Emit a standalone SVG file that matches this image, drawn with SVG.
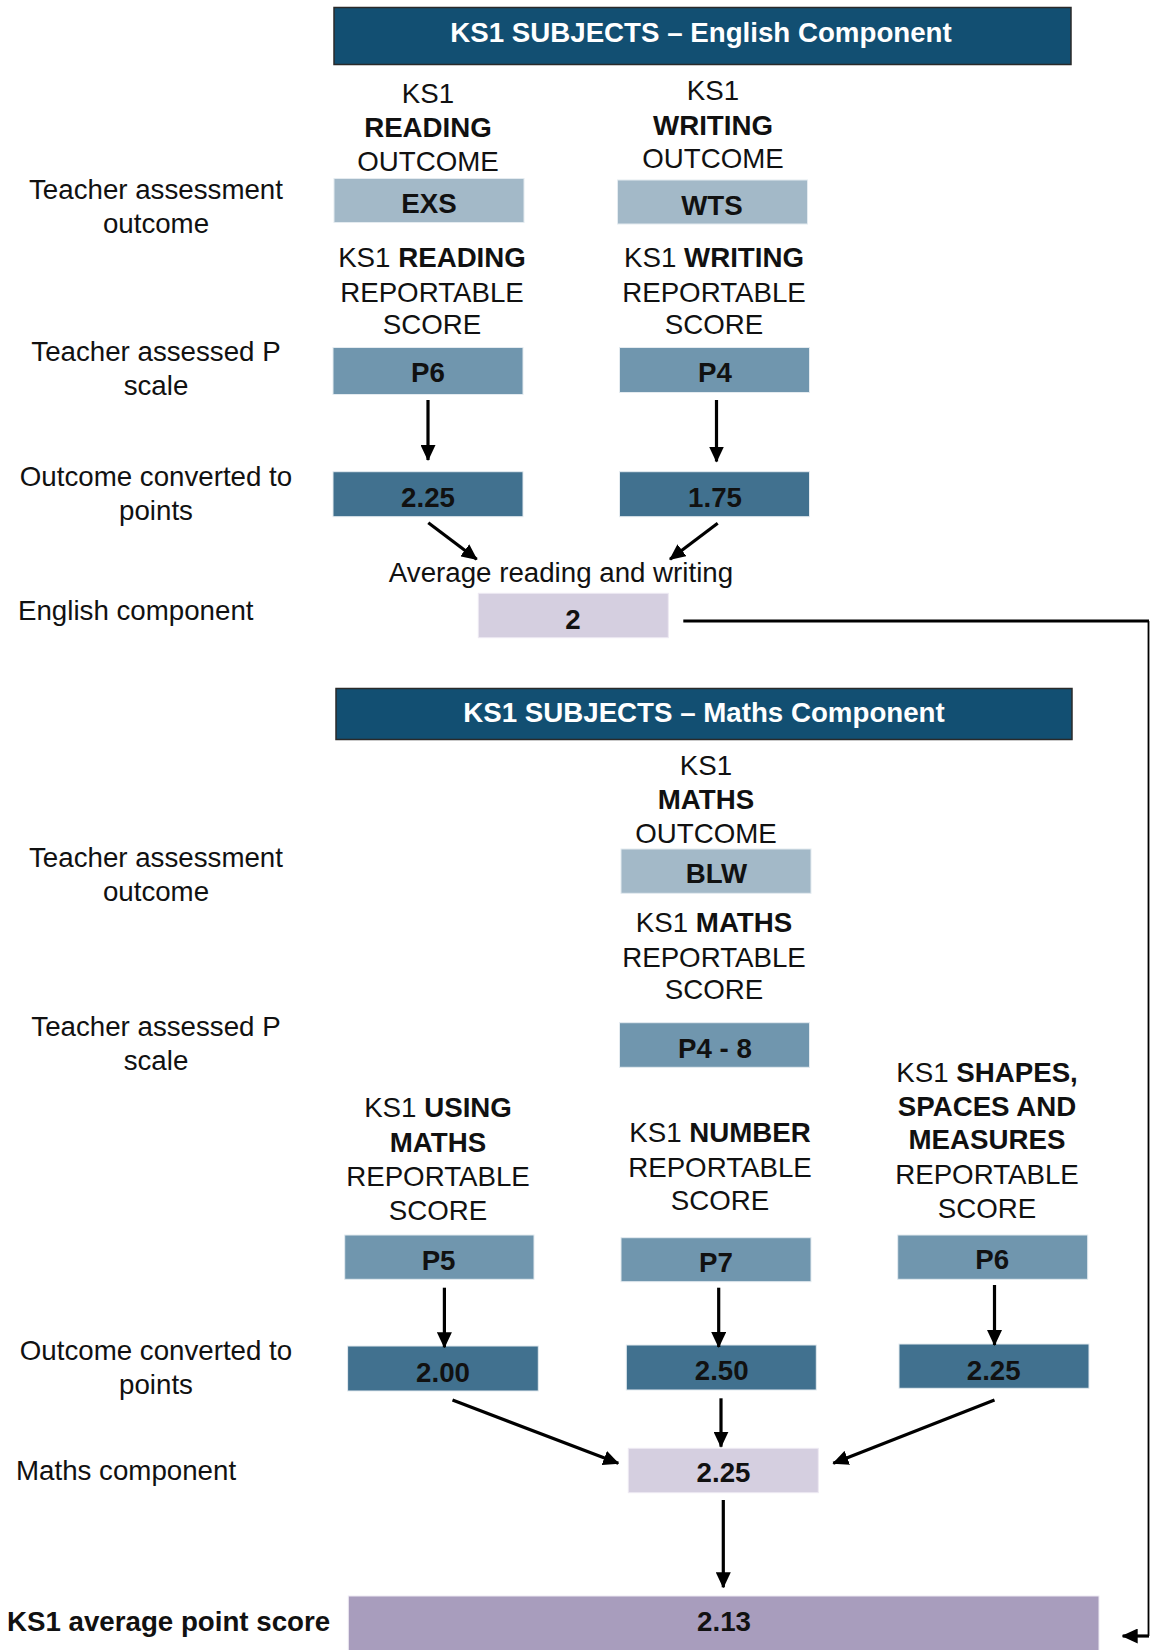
<svg xmlns="http://www.w3.org/2000/svg" width="1150" height="1650" viewBox="0 0 1150 1650">
<style>
text{font-family:"Liberation Sans",Arial,sans-serif;font-size:27.7px;fill:#111}
.c{text-anchor:middle}
.b{font-weight:bold}
.hdr rect{fill:#124f72;stroke:#2a2a2a;stroke-width:1.5}
.hdr text{fill:#fff;font-weight:bold;text-anchor:middle}
.box text{font-weight:bold;text-anchor:middle;fill:#111}
.l1{fill:#a3b9c8;stroke:#e4ebf0;stroke-width:1}
.l2{fill:#7096ae;stroke:#e4ebf0;stroke-width:1}
.l3{fill:#41718f;stroke:#e4ebf0;stroke-width:1}
.l4{fill:#d5cfe0;stroke:#eeeaf3;stroke-width:1}
.l5{fill:#a89dbd;stroke:#eeeaf3;stroke-width:1}
.arr{stroke:#000;stroke-width:3.2;fill:none;marker-end:url(#ah)}
.ln{stroke:#000;fill:none}
</style>
<defs>
<marker id="ah" markerUnits="userSpaceOnUse" markerWidth="16" markerHeight="15" refX="15" refY="7.5" orient="auto">
<path d="M0,0 L16,7.5 L0,15 z" fill="#000"/>
</marker>
</defs>
<rect width="1150" height="1650" fill="#fff"/>

<!-- Left labels -->
<g id="labels">
<text class="c" x="156" y="199">Teacher assessment</text>
<text class="c" x="156" y="233">outcome</text>
<text class="c" x="156" y="361">Teacher assessed P</text>
<text class="c" x="156" y="395">scale</text>
<text class="c" x="156" y="486">Outcome converted to</text>
<text class="c" x="156" y="520">points</text>
<text x="18" y="620">English component</text>
<text class="c" x="156" y="867">Teacher assessment</text>
<text class="c" x="156" y="901">outcome</text>
<text class="c" x="156" y="1036">Teacher assessed P</text>
<text class="c" x="156" y="1070">scale</text>
<text class="c" x="156" y="1360">Outcome converted to</text>
<text class="c" x="156" y="1394">points</text>
<text x="16" y="1480">Maths component</text>
<text class="b" x="7" y="1631">KS1 average point score</text>
</g>

<!-- English section -->
<g id="hdr-english" class="hdr">
<rect x="334" y="7.5" width="737" height="57"/>
<text x="701" y="42">KS1 SUBJECTS – English Component</text>
</g>

<g id="reading-outcome-title">
<text class="c" x="428" y="103">KS1</text>
<text class="c b" x="428" y="137">READING</text>
<text class="c" x="428" y="171">OUTCOME</text>
</g>
<g id="writing-outcome-title">
<text class="c" x="713" y="100">KS1</text>
<text class="c b" x="713" y="135">WRITING</text>
<text class="c" x="713" y="168">OUTCOME</text>
</g>
<g id="exs" class="box">
<rect class="l1" x="334" y="178.5" width="190" height="44"/>
<text x="429" y="213">EXS</text>
</g>
<g id="wts" class="box">
<rect class="l1" x="617.5" y="180" width="190" height="44"/>
<text x="712" y="214.5">WTS</text>
</g>

<g id="reading-score-title">
<text class="c" x="432" y="267">KS1 <tspan class="b">READING</tspan></text>
<text class="c" x="432" y="302">REPORTABLE</text>
<text class="c" x="432" y="334">SCORE</text>
</g>
<g id="writing-score-title">
<text class="c" x="714" y="267">KS1 <tspan class="b">WRITING</tspan></text>
<text class="c" x="714" y="302">REPORTABLE</text>
<text class="c" x="714" y="334">SCORE</text>
</g>
<g id="reading-p" class="box">
<rect class="l2" x="333" y="347.5" width="190" height="47"/>
<text x="428" y="382">P6</text>
</g>
<g id="writing-p" class="box">
<rect class="l2" x="619.5" y="347.5" width="190" height="45"/>
<text x="715" y="382">P4</text>
</g>
<g id="reading-pts" class="box">
<rect class="l3" x="333" y="471.7" width="190" height="45"/>
<text x="428" y="507">2.25</text>
</g>
<g id="writing-pts" class="box">
<rect class="l3" x="619.5" y="471.7" width="190" height="45"/>
<text x="715" y="507">1.75</text>
</g>
<g id="avg-label">
<text class="c" x="561" y="582">Average reading and writing</text>
</g>
<g id="english-comp" class="box">
<rect class="l4" x="478.3" y="593.3" width="190" height="44.4"/>
<text x="573" y="629">2</text>
</g>

<!-- Maths section -->
<g id="hdr-maths" class="hdr">
<rect x="336" y="688.5" width="736" height="51"/>
<text x="704" y="722">KS1 SUBJECTS – Maths Component</text>
</g>
<g id="maths-outcome-title">
<text class="c" x="706" y="775">KS1</text>
<text class="c b" x="706" y="809">MATHS</text>
<text class="c" x="706" y="843">OUTCOME</text>
</g>
<g id="blw" class="box">
<rect class="l1" x="621" y="849" width="190" height="44.3"/>
<text x="716.5" y="883">BLW</text>
</g>
<g id="maths-score-title">
<text class="c" x="714" y="932">KS1 <tspan class="b">MATHS</tspan></text>
<text class="c" x="714" y="967">REPORTABLE</text>
<text class="c" x="714" y="999">SCORE</text>
</g>
<g id="maths-p" class="box">
<rect class="l2" x="619.5" y="1022.7" width="190" height="44.6"/>
<text x="715" y="1058">P4 - 8</text>
</g>

<g id="using-title">
<text class="c" x="438" y="1117">KS1 <tspan class="b">USING</tspan></text>
<text class="c b" x="438" y="1152">MATHS</text>
<text class="c" x="438" y="1186">REPORTABLE</text>
<text class="c" x="438" y="1220">SCORE</text>
</g>
<g id="number-title">
<text class="c" x="720" y="1142">KS1 <tspan class="b">NUMBER</tspan></text>
<text class="c" x="720" y="1177">REPORTABLE</text>
<text class="c" x="720" y="1210">SCORE</text>
</g>
<g id="shapes-title">
<text class="c" x="987" y="1082">KS1 <tspan class="b">SHAPES,</tspan></text>
<text class="c b" x="987" y="1116">SPACES AND</text>
<text class="c b" x="987" y="1149">MEASURES</text>
<text class="c" x="987" y="1184">REPORTABLE</text>
<text class="c" x="987" y="1218">SCORE</text>
</g>

<g id="using-p" class="box">
<rect class="l2" x="344.7" y="1235" width="189.3" height="44.3"/>
<text x="438.6" y="1270">P5</text>
</g>
<g id="number-p" class="box">
<rect class="l2" x="621" y="1237.7" width="190" height="44"/>
<text x="716" y="1272">P7</text>
</g>
<g id="shapes-p" class="box">
<rect class="l2" x="897.7" y="1235" width="190" height="44.3"/>
<text x="992.3" y="1268.5">P6</text>
</g>
<g id="using-pts" class="box">
<rect class="l3" x="347.6" y="1346" width="190.7" height="45"/>
<text x="443" y="1382">2.00</text>
</g>
<g id="number-pts" class="box">
<rect class="l3" x="626.3" y="1345" width="190" height="45"/>
<text x="721.7" y="1380">2.50</text>
</g>
<g id="shapes-pts" class="box">
<rect class="l3" x="899" y="1344" width="190" height="44.3"/>
<text x="993.7" y="1379.5">2.25</text>
</g>
<g id="maths-comp" class="box">
<rect class="l4" x="628.3" y="1448.3" width="190" height="44.4"/>
<text x="723.5" y="1482">2.25</text>
</g>
<g id="final" class="box">
<rect class="l5" x="348.3" y="1596" width="750.7" height="60"/>
<text x="724" y="1631">2.13</text>
</g>

<!-- Connectors -->
<g id="connectors">
<line class="arr" x1="428" y1="400" x2="428" y2="460"/>
<line class="arr" x1="716.5" y1="400" x2="716.5" y2="461.5"/>
<line class="arr" x1="428.3" y1="522.7" x2="476.7" y2="559.3"/>
<line class="arr" x1="717.7" y1="523.3" x2="670" y2="559.3"/>
<line class="arr" x1="444.4" y1="1287.7" x2="444.4" y2="1347.3"/>
<line class="arr" x1="718.7" y1="1287.7" x2="718.7" y2="1347"/>
<line class="arr" x1="994.5" y1="1285" x2="994.5" y2="1345"/>
<line class="arr" x1="452.5" y1="1400" x2="618.3" y2="1463.3"/>
<line class="arr" x1="721" y1="1398.3" x2="721" y2="1446.7"/>
<line class="arr" x1="994.5" y1="1400" x2="833.3" y2="1463.3"/>
<line class="arr" x1="723.3" y1="1500" x2="723.3" y2="1587.3"/>
<line class="ln" stroke-width="3" x1="683.3" y1="621" x2="1149" y2="621"/>
<line class="ln" stroke-width="1.8" x1="1148.5" y1="621" x2="1148.5" y2="1636"/>
<line class="arr" stroke-width="2.8" x1="1149" y1="1636" x2="1122.7" y2="1636"/>
</g>
</svg>
